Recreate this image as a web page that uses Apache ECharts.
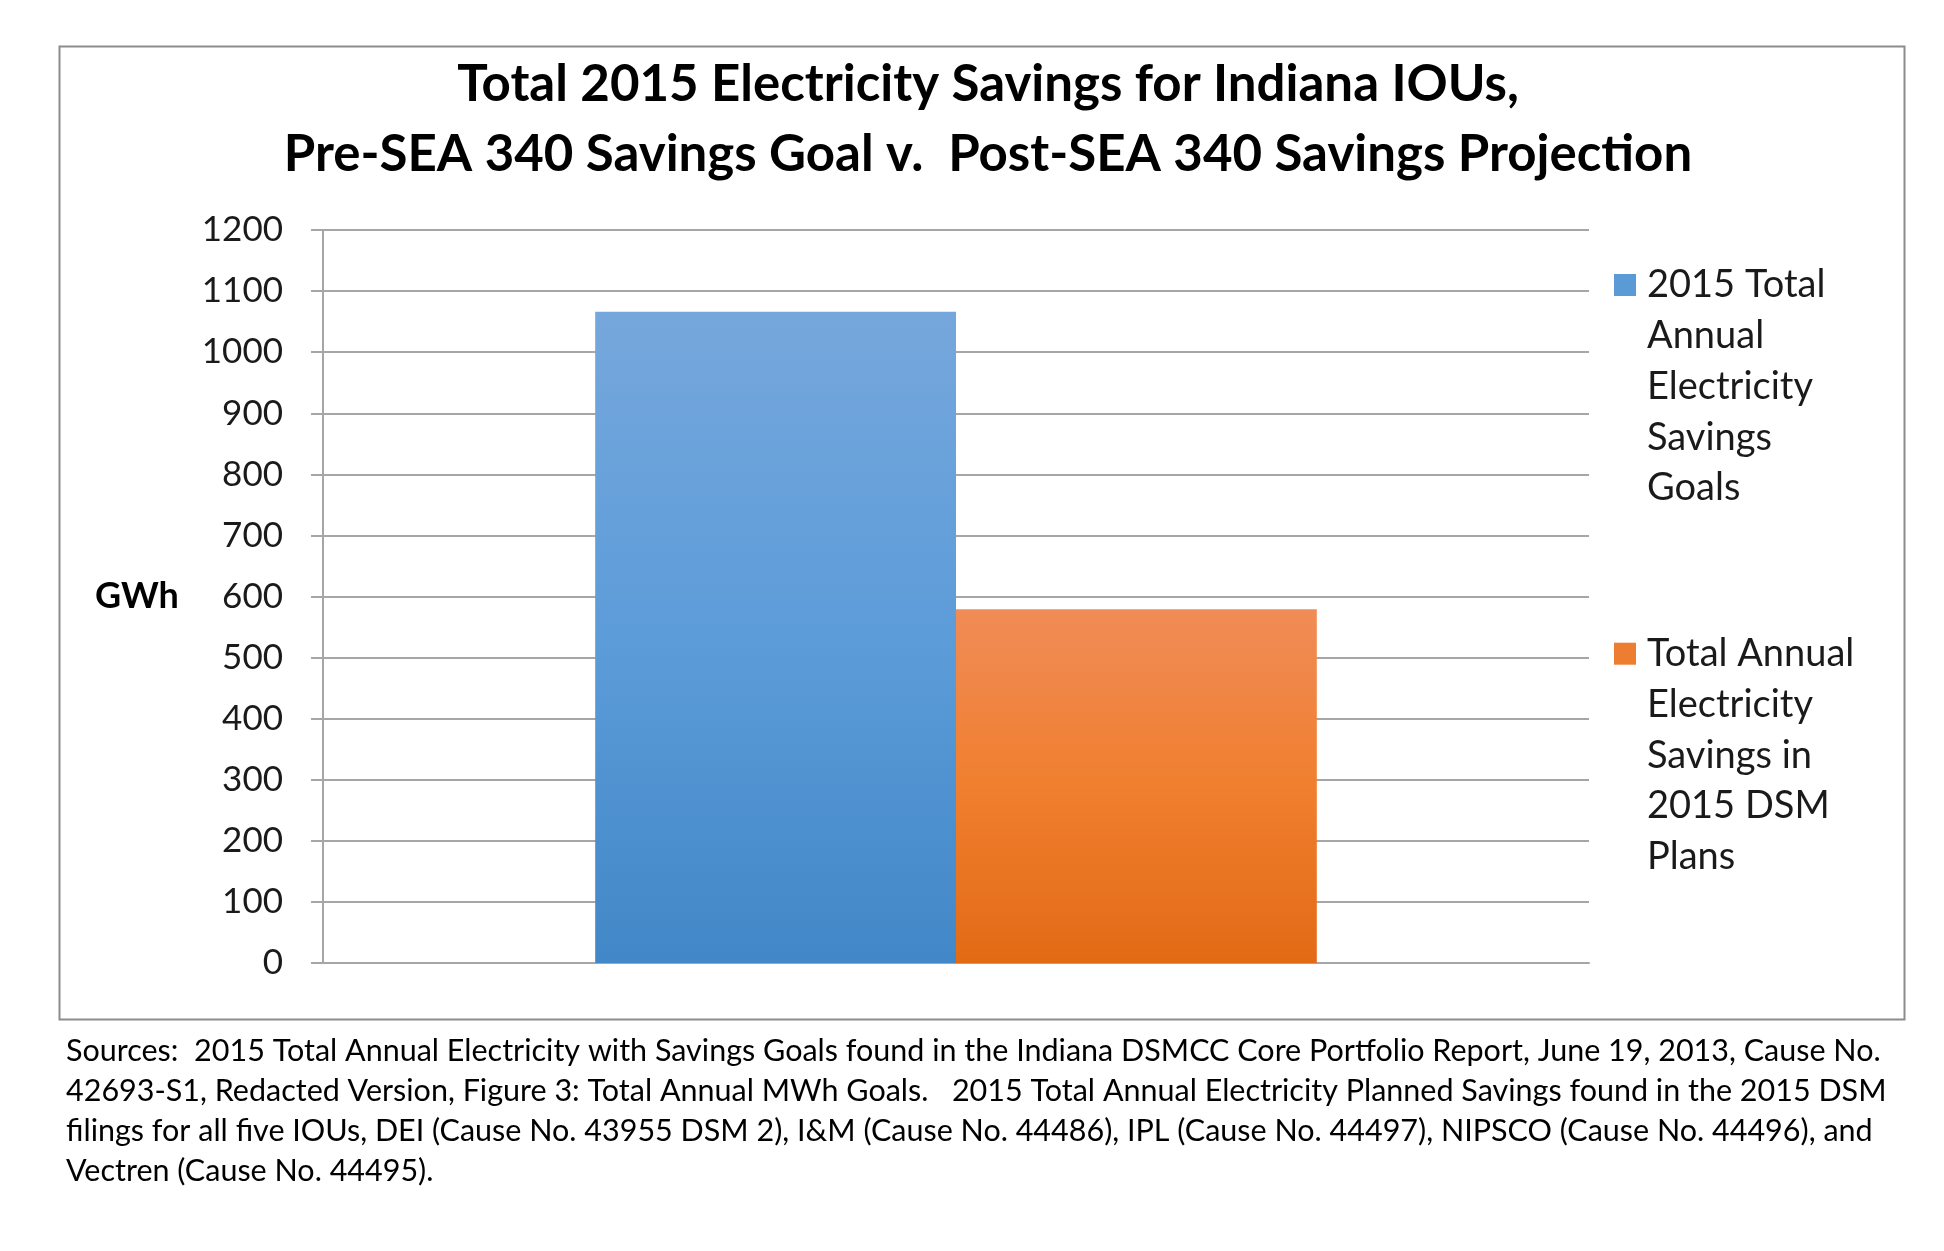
<!DOCTYPE html>
<html>
<head>
<meta charset="utf-8">
<script src="https://cdn.jsdelivr.net/npm/echarts@6/dist/echarts.min.js"></script>
<style>
  html, body { margin: 0; padding: 0; background: #fff; }
  #main { width: 1944px; height: 1251px; }
</style>
</head>
<body>
<div id="main"></div>
<script>
var categories = ['2015']
var goalValues = [1066]
var planValues = [579]
var yTicks = [0, 1200, 100]

var seriesNames = [
  '2015 Total Annual Electricity Savings Goals',
  'Total Annual Electricity Savings in 2015 DSM Plans'
]
var legendLines = [
  ['2015 Total', 'Annual', 'Electricity', 'Savings', 'Goals'],
  ['Total Annual', 'Electricity', 'Savings in', '2015 DSM', 'Plans']
]
var titleLines = [
  'Total 2015 Electricity Savings for Indiana IOUs,',
  'Pre-SEA 340 Savings Goal v.  Post-SEA 340 Savings Projection'
]
var noteLines = [
  'Sources:  2015 Total Annual Electricity with Savings Goals found in the Indiana DSMCC Core Portfolio Report, June 19, 2013, Cause No.',
  '42693-S1, Redacted Version, Figure 3: Total Annual MWh Goals.   2015 Total Annual Electricity Planned Savings found in the 2015 DSM',
  'filings for all five IOUs, DEI (Cause No. 43955 DSM 2), I&M (Cause No. 44486), IPL (Cause No. 44497), NIPSCO (Cause No. 44496), and',
  'Vectren (Cause No. 44495).'
]

var chartDom = document.getElementById('main')
var myChart = echarts.init(chartDom)
var gridColor = '#a6a6a6'
var txt = '#1a1a1a'

var legendRich = {
  sq0: { width: 22, height: 22, backgroundColor: '#5b9bd5' },
  sq1: { width: 22, height: 22, backgroundColor: '#ed7d31' },
  gap: { width: 11 },
  ind: { width: 33 },
  t: { fontSize: 38, lineHeight: 50.8, color: txt, fontFamily: 'Lato' }
}

var option = {
  animation: false,
  backgroundColor: '#fff',
  textStyle: { fontFamily: 'Lato' },
  title: {
    text: titleLines.join('\n'),
    left: 988,
    top: 50,
    padding: 0,
    textAlign: 'center',
    textStyle: {
      fontSize: 51,
      fontWeight: 'bold',
      color: '#000',
      lineHeight: 70,
      fontFamily: 'Lato'
    }
  },
  legend: {
    orient: 'vertical',
    left: 1609,
    top: 266,
    padding: 0,
    itemGap: 127.5,
    itemWidth: 0,
    itemHeight: 0,
    icon: 'rect',
    selectedMode: false,
    data: seriesNames,
    formatter: function (name) {
      var i = seriesNames.indexOf(name)
      return legendLines[i].map(function (l, k) {
        return (k === 0 ? '{sq' + i + '|}{gap|}' : '{ind|}') + '{t|' + l + '}'
      }).join('\n')
    },
    textStyle: { rich: legendRich }
  },
  grid: { left: 323, right: 355, top: 230, bottom: 288, containLabel: false },
  xAxis: {
    type: 'category',
    data: categories,
    axisLabel: { show: false },
    axisTick: { show: false },
    axisLine: { lineStyle: { color: gridColor, width: 2 } }
  },
  yAxis: {
    type: 'value',
    min: yTicks[0],
    max: yTicks[1],
    interval: yTicks[2],
    name: 'GWh',
    nameLocation: 'middle',
    nameRotate: 0,
    nameGap: 186,
    nameTextStyle: {
      fontSize: 36, fontWeight: 'bold', color: '#000',
      align: 'center', verticalAlign: 'middle', padding: [8, 0, 0, 0]
    },
    axisLine: { show: true, lineStyle: { color: gridColor, width: 2 } },
    axisTick: { show: true, length: 12, lineStyle: { color: gridColor, width: 2 } },
    axisLabel: {
      fontSize: 35, color: txt, margin: 40,
      formatter: function (v) { return String(v) }
    },
    splitLine: { lineStyle: { color: gridColor, width: 2 } }
  },
  series: [
    {
      name: seriesNames[0],
      type: 'bar',
      barGap: '0%',
      barCategoryGap: '43%',
      data: goalValues,
      itemStyle: {
        color: new echarts.graphic.LinearGradient(0, 0, 0, 1, [
          { offset: 0, color: '#76a7dc' },
          { offset: 0.5, color: '#5c9cd9' },
          { offset: 1, color: '#4287c7' }
        ])
      }
    },
    {
      name: seriesNames[1],
      type: 'bar',
      data: planValues,
      itemStyle: {
        color: new echarts.graphic.LinearGradient(0, 0, 0, 1, [
          { offset: 0, color: '#f08c57' },
          { offset: 0.5, color: '#f07f2f' },
          { offset: 1, color: '#e26a15' }
        ])
      }
    }
  ],
  graphic: [
    {
      type: 'rect',
      left: 57,
      top: 44,
      shape: { width: 1845, height: 973 },
      style: { fill: null, stroke: '#8c8c8c', lineWidth: 2 },
      silent: true
    },
    {
      type: 'text',
      left: 66,
      top: 1031,
      style: {
        text: noteLines.join('\n'),
        font: '30.5px Lato',
        lineHeight: 40,
        fill: '#000'
      },
      silent: true
    }
  ]
}

option && myChart.setOption(option)
</script>
</body>
</html>
